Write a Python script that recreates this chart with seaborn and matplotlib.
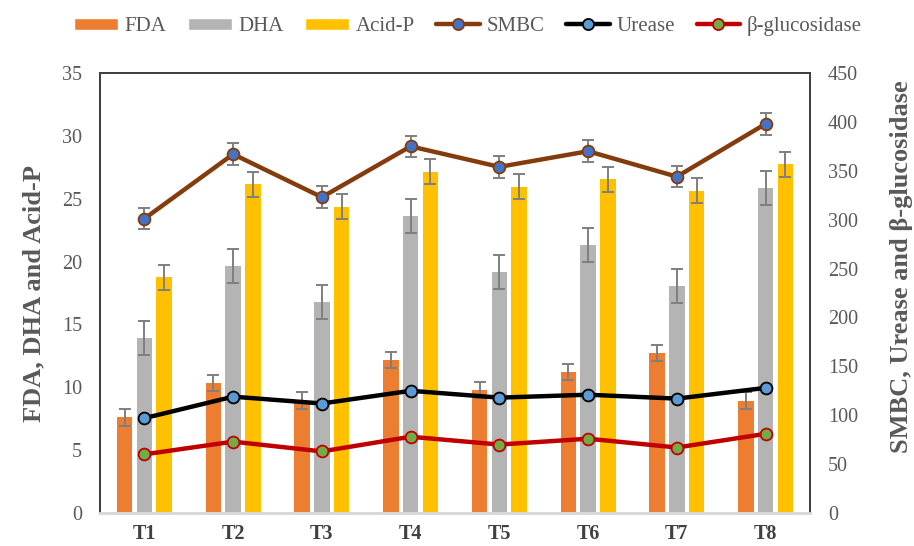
import numpy as np
import pandas as pd
import matplotlib
matplotlib.use("Agg")
import matplotlib.pyplot as plt
import seaborn as sns
from matplotlib.patches import Patch
from matplotlib.lines import Line2D

categories = ["T1", "T2", "T3", "T4", "T5", "T6", "T7", "T8"]
fda = [7.6, 10.35, 8.95, 12.15, 9.8, 11.25, 12.75, 8.95]
fda_err = [0.64, 0.64, 0.64, 0.64, 0.64, 0.64, 0.64, 0.64]
dha = [13.9, 19.65, 16.75, 23.65, 19.15, 21.35, 18.05, 25.85]
dha_err = [1.35, 1.35, 1.35, 1.35, 1.35, 1.35, 1.35, 1.35]
acidp = [18.75, 26.15, 24.35, 27.15, 25.95, 26.55, 25.65, 27.75]
acidp_err = [1.0, 1.0, 1.0, 1.0, 1.0, 1.0, 1.0, 1.0]
smbc = [301, 367, 323, 375, 354, 370, 344, 398]
smbc_err = [11, 11, 11, 11, 11, 11, 11, 11]
urease = [97, 119, 112, 125, 118, 121, 117, 128]
bgluc = [60, 73, 63, 78, 70, 76, 67, 81]

bar_names = ["FDA", "DHA", "Acid-P"]
bar_colors = ["#ED7D31", "#B4B4B4", "#FFC000"]

sns.set_theme(style="white")
plt.rcParams['font.family'] = ['Liberation Serif', 'DejaVu Serif']

fig = plt.figure(figsize=(9.14, 5.46), dpi=100)
ax = fig.add_axes([0.1094, 0.0604, 0.7768, 0.8059])

df = pd.DataFrame({
    "cat": categories * 3,
    "val": fda + dha + acidp,
    "err": fda_err + dha_err + acidp_err,
    "series": sum([[n] * len(categories) for n in bar_names], []),
})
sns.barplot(data=df, x="cat", y="val", hue="series", hue_order=bar_names,
            palette=bar_colors, width=0.666, gap=0.21, errorbar=None,
            legend=False, ax=ax, saturation=1, linewidth=0)

# error bars on bars
for i, name in enumerate(bar_names):
    sub = df[df.series == name]
    offs = (i - 1) * 0.222
    xs = np.arange(len(categories)) + offs
    ax.errorbar(xs, sub["val"].values, yerr=sub["err"].values, fmt="none",
                ecolor="#7F7F7F", elinewidth=1.4, capsize=4.5, capthick=1.4, zorder=3)

ax.set_xlim(-0.5, len(categories) - 0.5)
ax.set_ylim(0, 35)
ax.set_yticks(np.arange(0, 36, 5))
ax.set_xlabel("")
ax.set_ylabel("FDA, DHA and Acid-P", fontsize=19, fontweight="bold", color="#595959")
ax.yaxis.set_label_coords(-0.0775, 0.5)
ax.tick_params(axis="y", length=0, pad=13, labelsize=14.5, labelcolor="#595959")
ax.tick_params(axis="x", length=0, pad=8, labelsize=14.5, labelcolor="#404040")
for lab in ax.get_xticklabels():
    lab.set_fontweight("bold")

ax2 = ax.twinx()
xpos = np.arange(len(categories))
line_specs = [
    ("SMBC", smbc, "#843C0C", "#4472C4", "#843C0C"),
    ("Urease", urease, "#000000", "#5B9BD5", "#000000"),
    ("β-glucosidase", bgluc, "#C00000", "#70AD47", "#C00000"),
]
ax2.errorbar(xpos, smbc, yerr=smbc_err, fmt="none", ecolor="#7F7F7F",
             elinewidth=1.4, capsize=4.5, capthick=1.4, zorder=2)
for name, vals, lc, mfc, mec in line_specs:
    sns.lineplot(x=xpos, y=vals, ax=ax2, color=lc, linewidth=3.2, marker="o",
                 markersize=8.5, markerfacecolor=mfc, markeredgecolor=mec,
                 markeredgewidth=1.3, zorder=4)
ax2.set_ylim(0, 450)
ax2.set_yticks(np.arange(0, 451, 50))
ax2.set_ylabel("SMBC, Urease and β-glucosidase", fontsize=19, fontweight="bold",
               color="#595959")
ax2.yaxis.set_label_coords(1.113, 0.56)
ax2.tick_params(axis="y", length=0, pad=13, labelsize=14.5, labelcolor="#595959")
ax.set_xlim(-0.5, len(categories) - 0.5)

for a in (ax, ax2):
    for s in ("left", "right", "top"):
        a.spines[s].set_color("#404040")
        a.spines[s].set_linewidth(1.3)
    a.spines["bottom"].set_color("#D9D9D9")
    a.spines["bottom"].set_linewidth(2)

handles = [Patch(facecolor=c, label=n) for n, c in zip(bar_names, bar_colors)]
for name, vals, lc, mfc, mec in line_specs:
    handles.append(Line2D([0], [0], color=lc, linewidth=3.2, marker="o", markersize=8,
                          markerfacecolor=mfc, markeredgecolor=mec, markeredgewidth=1.3,
                          label=name))
fig.legend(handles=handles, loc="center", bbox_to_anchor=(0.512, 0.952), ncol=6,
           frameon=False, fontsize=15, handlelength=2.1, handleheight=0.55,
           columnspacing=1.05, handletextpad=0.3, labelcolor="#595959")

fig.savefig("out.png", dpi=100)
